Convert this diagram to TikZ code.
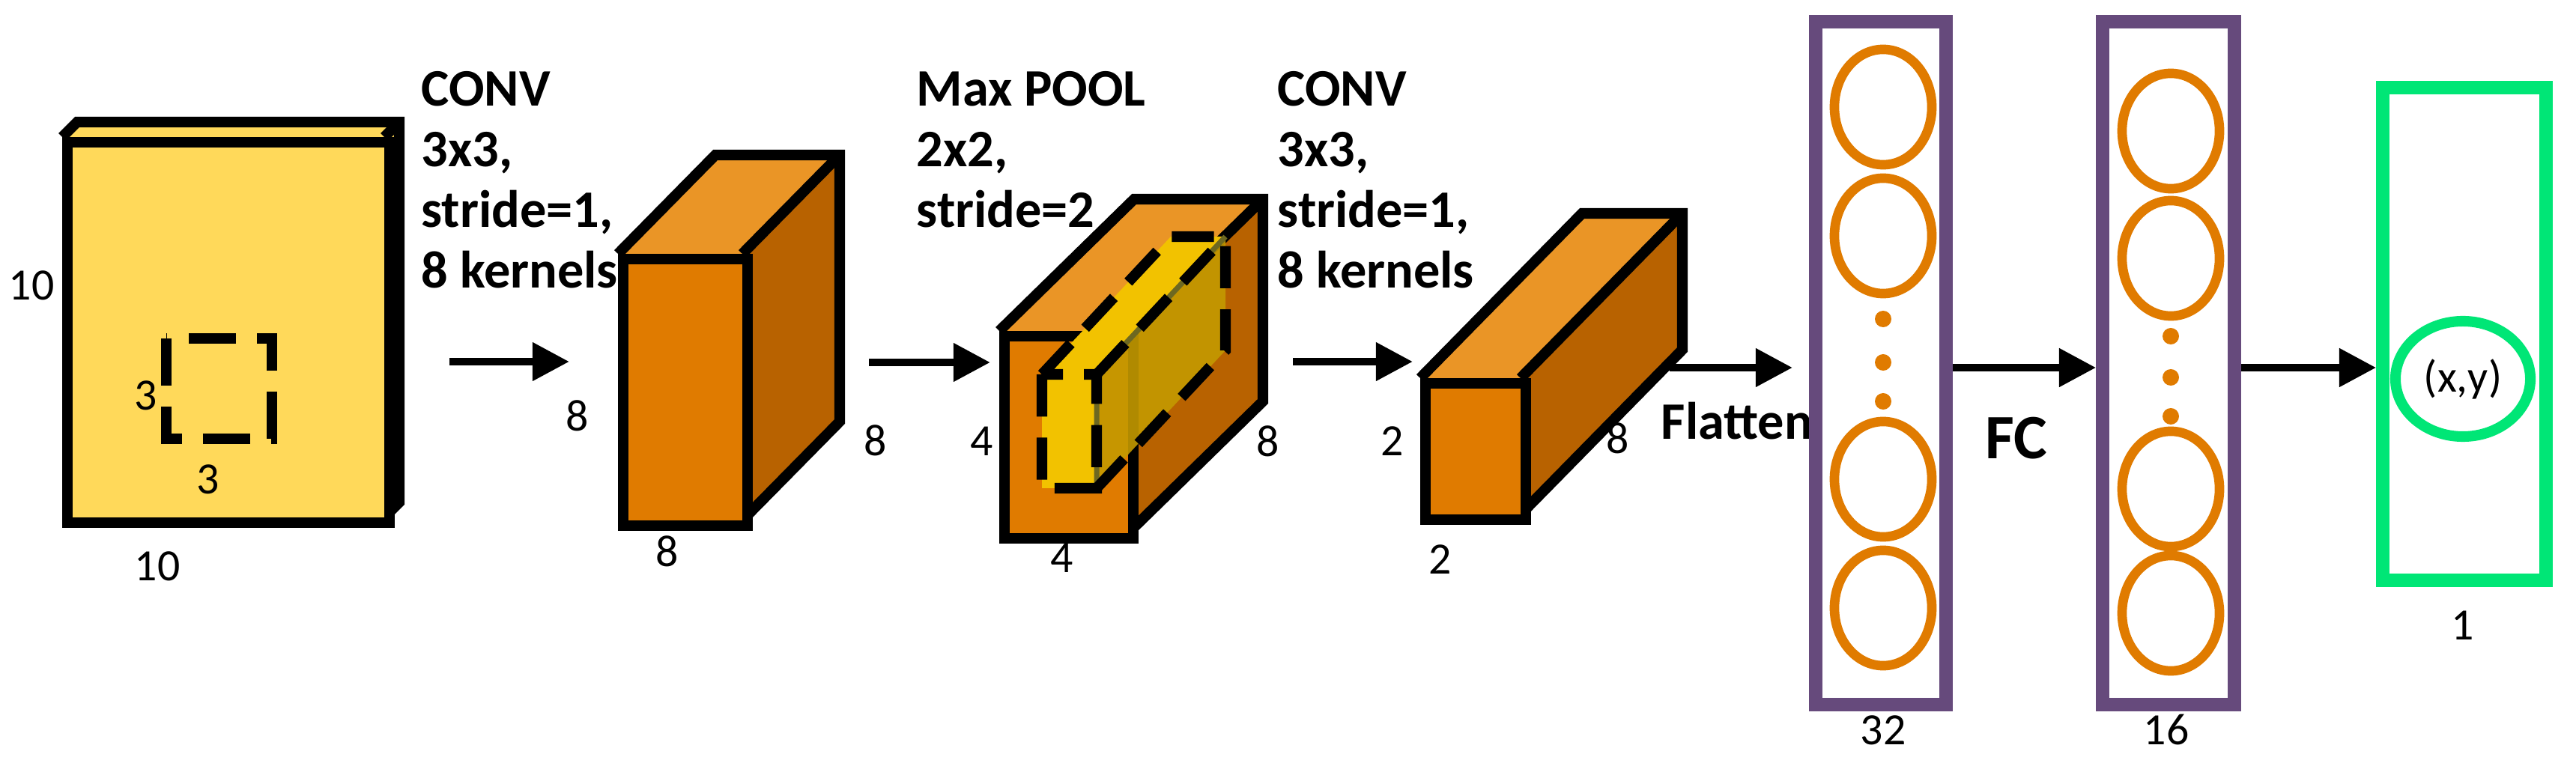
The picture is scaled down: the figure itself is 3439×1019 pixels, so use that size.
\documentclass[tikz,border=0pt]{standalone}
\usepackage{fontspec}
\setmainfont{Carlito}
\usetikzlibrary{arrows.meta,shapes.geometric}
\definecolor{slab}{HTML}{FFD95A}
\definecolor{ofront}{HTML}{E07B00}
\definecolor{otop}{HTML}{EA9526}
\definecolor{oside}{HTML}{B86200}
\definecolor{nnpurple}{HTML}{664A7C}
\definecolor{nngreen}{HTML}{00E676}
\definecolor{wyel}{HTML}{F2C200}
\definecolor{wside}{HTML}{C49A00}
\newcommand\mycuboid[8]{%
 \fill[#7] (#1,#2) -- ({#1+#5},{#2-#6}) -- ({#3+#5},{#2-#6}) -- (#3,#2) -- cycle;
 \fill[#8] (#3,#2) -- ({#3+#5},{#2-#6}) -- ({#3+#5},{#4-#6}) -- (#3,#4) -- cycle;
 \draw[cube] (#1,#2) -- ({#1+#5},{#2-#6}) -- ({#3+#5},{#2-#6}) -- ({#3+#5},{#4-#6}) -- (#3,#4);
 \draw[cube] (#3,#2) -- ({#3+#5},{#2-#6});
}
\tikzset{
 cube/.style={line width=4pt,line join=miter},
 lab/.style={font=\fontsize{20}{23}\selectfont\bfseries,align=left,anchor=north west,inner sep=0},
 num/.style={font=\fontsize{17}{20}\selectfont,inner sep=0},
 arr/.style={line width=3pt,-{Triangle[length=14pt,width=14pt]}},
 neuron/.style={draw=ofront,line width=3.6pt,ellipse,minimum width=130*0.2845pt,minimum height=154*0.2845pt,inner sep=0},
 dotn/.style={fill=ofront,circle,minimum size=22*0.2845pt,inner sep=0},
}
\begin{document}
\begin{tikzpicture}[x=0.01cm,y=-0.01cm]
\useasboundingbox (0,0) rectangle (3439,1019);
% input slab
\mycuboid{83}{183}{513}{691}{20}{20}{slab}{slab}
\node[draw,cube,fill=slab,minimum width=430*0.2845pt,minimum height=508*0.2845pt,anchor=north west,inner sep=0] (in) at (83,183) {};
\draw[line width=4pt,dash pattern=on 18pt off 8pt] (222,452) rectangle (363,586);
\node[num] (l10a) at (42,381) {10};
\node[num] (l3a) at (195,528) {3};
\node[num] (l3b) at (278,640) {3};
\node[num] (l10b) at (210,756) {10};
\node[lab] (t1) at (562,95) {CONV\\3x3,\\stride=1,\\8 kernels};
\coordinate (a1s) at (600,483); \coordinate (a1e) at (760,483);
\draw[arr] (a1s) -- (a1e);
% cube 1
\mycuboid{825}{339}{991}{695}{130}{132}{otop}{oside}
\node[draw,cube,fill=ofront,minimum width=166*0.2845pt,minimum height=356*0.2845pt,anchor=north west,inner sep=0] (c1) at (825,339) {};
\node[num] (l8a) at (771,555) {8};
\node[num] (l8b) at (1169,588) {8};
\node[num] (l8c) at (891,736) {8};
\node[lab] (t2) at (1223,95) {Max POOL\\2x2,\\stride=2};
\coordinate (a2s) at (1160,484); \coordinate (a2e) at (1322,484);
\draw[arr] (a2s) -- (a2e);
% pool cube
\mycuboid{1334}{442}{1506}{712}{180}{176}{otop}{oside}
\node[draw,cube,fill=ofront,minimum width=172*0.2845pt,minimum height=270*0.2845pt,anchor=north west,inner sep=0] (c2) at (1334,442) {};
% pooling window
\fill[wyel] (1391,500) -- (1563,316) -- (1636,316) -- (1464,500) -- cycle;
\fill[wside,opacity=0.9] (1464,500) -- (1636,316) -- (1636,468) -- (1464,652) -- cycle;
\fill[wyel] (1391,500) rectangle (1464,652);
\draw[olive!70!black,line width=2pt] (1464,500) -- (1636,316) (1464,500) -- (1464,652);
\draw[line width=4pt,dash pattern=on 16pt off 8pt] (1391,500) rectangle (1464,652)
  (1391,500) -- (1563,316) -- (1636,316) -- (1636,468) -- (1464,652)
  (1464,500) -- (1636,316);
\node[num] (l4a) at (1311,589) {4};
\node[num] (l8d) at (1693,589) {8};
\node[num] (l4b) at (1418,745) {4};
\node[lab] (t3) at (1705,95) {CONV\\3x3,\\stride=1,\\8 kernels};
\coordinate (a3s) at (1726,483); \coordinate (a3e) at (1886,483);
\draw[arr] (a3s) -- (a3e);
% cube 3
\mycuboid{1896}{505}{2030}{687}{216}{220}{otop}{oside}
\node[draw,cube,fill=ofront,minimum width=134*0.2845pt,minimum height=182*0.2845pt,anchor=north west,inner sep=0] (c3) at (1896,505) {};
\node[num] (l2a) at (1859,589) {2};
\node[num] (l8e) at (2160,585) {8};
\node[num] (l2b) at (1923,747) {2};
\node[font=\fontsize{20}{23}\selectfont\bfseries,anchor=west,inner sep=0] (fl) at (2217,562) {Flatten};
\coordinate (a4s) at (2229,491); \coordinate (a4e) at (2393,491);
\draw[arr] (a4s) -- (a4e);
% FC layers
\node[draw=nnpurple,line width=5pt,minimum width=174*0.2845pt,minimum height=912*0.2845pt,inner sep=0] (f32) at (2511,485) {};
\foreach \y/\n in {143/1,315/2,640/3,812/4}{\node[neuron] (n32\n) at (2514,\y) {};}
\foreach \y/\n in {426/1,484/2,536/3}{\node[dotn] (d32\n) at (2514,\y) {};}
\node[num] (l32) at (2514,975) {32};
\node[draw=nnpurple,line width=5pt,minimum width=176*0.2845pt,minimum height=912*0.2845pt,inner sep=0] (f16) at (2895,485) {};
\foreach \y/\n in {175/1,345/2,653/3,819/4}{\node[neuron] (n16\n) at (2898,\y) {};}
\foreach \y/\n in {449/1,504/2,556/3}{\node[dotn] (d16\n) at (2898,\y) {};}
\node[num] (l16) at (2892,975) {16};
\draw[arr] (f32.east |- 0,491) -- (f16.west |- 0,491);
\node[font=\fontsize{24}{28}\selectfont\bfseries,inner sep=0] (fc) at (2692,585) {FC};
% output
\node[draw=nngreen,line width=5pt,minimum width=218*0.2845pt,minimum height=658*0.2845pt,inner sep=0] (out) at (3290,446) {};
\node[draw=nngreen,line width=4pt,ellipse,minimum width=180*0.2845pt,minimum height=154*0.2845pt,inner sep=0,font=\fontsize{17}{20}\selectfont] (xy) at (3288,506) {(x,y)};
\node[num] (l1) at (3288,835) {1};
\draw[arr] (f16.east |- 0,491) -- (out.west |- 0,491);
\end{tikzpicture}
\end{document}
